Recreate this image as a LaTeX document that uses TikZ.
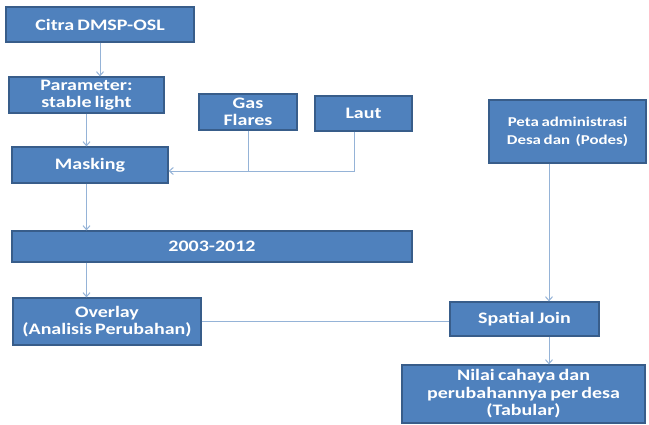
\documentclass[tikz,border=0pt]{standalone}
\usepackage{fontspec}
\setmainfont{Carlito}[FakeStretch=1.25, WordSpace=0.7]
\usetikzlibrary{arrows.meta}
\definecolor{boxfill}{HTML}{4F81BD}
\definecolor{boxline}{HTML}{385D8A}
\definecolor{linkcol}{HTML}{95B3D7}
\tikzset{
	stepbox/.style = {draw=boxline, fill=boxfill, line width=1.2pt, text=white, align=center,
			font=\fontsize{16}{17.5}\selectfont\bfseries, inner sep=1pt},
	link/.style = {draw=linkcol, line width=1pt},
	linkarrow/.style = {link, -{Straight Barb[length=4pt, width=7pt]}},
}
\begin{document}
\begin{tikzpicture}[x=1pt, y=-1pt]
			\path[use as bounding box] (0,0) rectangle (649,424);
			% sumber data
			\node[stepbox, minimum width=188pt, minimum height=35pt] (cit) at (100,24.5) {Citra DMSP-OSL};
			\node[stepbox, minimum width=155pt, minimum height=36pt] (par) at (86.5,95) {Parameter:\\stable light};
			\node[stepbox, minimum width=98pt, minimum height=36pt] (gas) at (248,112) {Gas\\Flares};
			\node[stepbox, minimum width=97pt, minimum height=35pt] (lau) at (363.5,113.5) {Laut};
			\node[stepbox, minimum width=156pt, minimum height=36pt] (msk) at (90,165) {Masking};
			\node[stepbox, minimum width=157pt, minimum height=63pt, font=\fontsize{13.5}{18}\selectfont\bfseries] (pet) at (567.5,131.5) {Peta administrasi\\Desa dan~~(Podes)};
			% analisis
			\node[stepbox, minimum width=400pt, minimum height=31pt] (thn) at (212,246.5) {2003-2012};
			\node[stepbox, minimum width=188pt, minimum height=47pt] (ovl) at (107,321.5) {Overlay\\(Analisis Perubahan)};
			\node[stepbox, minimum width=149pt, minimum height=34pt] (spj) at (524.5,319) {Spatial Join};
			\node[stepbox, minimum width=243pt, minimum height=58pt] (nil) at (523.5,394) {Nilai cahaya dan\\perubahannya per desa\\(Tabular)};
			% titik bantu
			\coordinate (mskin) at ([yshift=-6pt]msk.east);
			\coordinate (lauout) at ([xshift=-9.5pt]lau.south);
			\coordinate (parout) at (par.south);
			\coordinate (petout) at ([xshift=-18.5pt]pet.south);
			% penghubung
			\draw[linkarrow] (cit.south) -- (cit.south |- par.north);
			\draw[linkarrow] (parout) -- (parout |- msk.north);
			\draw[linkarrow] (parout |- msk.south) -- (parout |- thn.north);
			\draw[linkarrow] (parout |- thn.south) -- (parout |- ovl.north);
			\draw[link] (gas.south) -- (gas.south |- mskin);
			\draw[linkarrow] (lauout) |- (mskin);
			\draw[linkarrow] (petout) -- (petout |- spj.north);
			\draw[linkarrow] (petout |- spj.south) -- (petout |- nil.north);
			\draw[link] (ovl.east) -- (ovl.east -| spj.west);
		\end{tikzpicture}
\end{document}
